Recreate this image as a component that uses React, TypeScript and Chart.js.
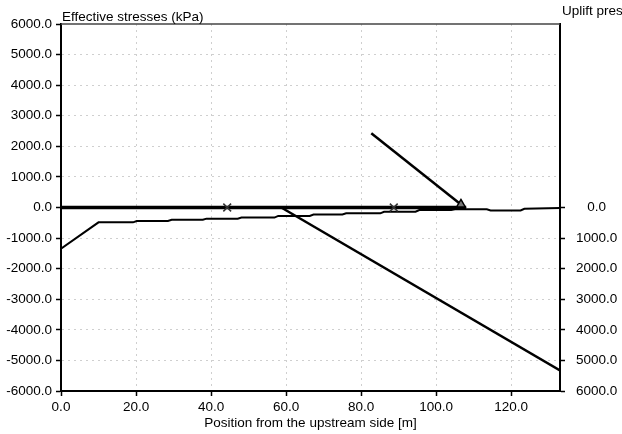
import React, { useEffect, useRef } from "react";
import { Chart, registerables } from "chart.js";

Chart.register(...registerables);

// ---- data ----
const xTitle = "Position from the upstream side [m]";
const leftTitle = "Effective stresses (kPa)";
const rightTitle = "Uplift pressures (kPa)";
const baseLength = 133;

const upliftX = [0, 108];
const upliftY = [0, 0];

const stressX = [0, 10, 19.2, 20.2, 28.5, 29.5, 37.8, 38.8, 47.1, 48.1, 56.9, 57.9, 66.3, 67.3, 75, 76, 85.1, 86.1, 94.5, 95.5, 104, 105, 113.5, 114.5, 122.5, 123.5, 133];
const stressY = [-1350, -485, -485, -440, -440, -400, -400, -365, -365, -330, -330, -275, -275, -228, -228, -190, -190, -140, -140, -85, -85, -60, -60, -95, -95, -40, -20];

const normalX = [58.7, 133];
const normalY = [0, -5330];

const resultantX = [82.7, 106.6];
const resultantY = [2430, 100];

const kernX = [44.3, 88.7];
const kernY = [0, 0];

const toPts = (xs: number[], ys: number[]) => xs.map((x, i) => ({ x, y: ys[i] }));

const FONT = '"Liberation Sans", Arial, sans-serif';
const GRID = "#cfcfcf";

const overlay = {
  id: "overlay",
  afterDraw(chart: any) {
    const { ctx, chartArea } = chart;
    ctx.save();
    ctx.strokeStyle = "#444";
    ctx.lineWidth = 1.5;
    ctx.beginPath();
    ctx.moveTo(chartArea.left, chartArea.top);
    ctx.lineTo(chartArea.right, chartArea.top);
    ctx.stroke();
    ctx.font = `13.5px ${FONT}`;
    ctx.fillStyle = "#000";
    ctx.textBaseline = "alphabetic";
    ctx.textAlign = "left";
    ctx.fillText(leftTitle, chartArea.left + 1, chartArea.top - 3);
    ctx.fillText(rightTitle, chartArea.right + 2, chartArea.top - 9);
    ctx.restore();
  },
};

export default function App() {
  const ref = useRef<HTMLCanvasElement>(null);

  useEffect(() => {
    document.body.style.margin = "0";
    const canvas = ref.current!;
    Chart.defaults.font.family = FONT;
    Chart.defaults.font.size = 13.5;
    Chart.defaults.color = "#000";

    const chart = new Chart(canvas, {
      type: "line",
      data: {
        datasets: [
          {
            label: "Resultant",
            data: toPts(resultantX, resultantY),
            borderColor: "#000",
            borderWidth: 2.5,
            pointRadius: [0, 5],
            pointStyle: "triangle",
            pointBackgroundColor: "#777",
            pointBorderColor: "#000",
            pointBorderWidth: 1.5,
            yAxisID: "y",
            order: 0,
          },
          {
            label: "Kern",
            data: toPts(kernX, kernY),
            showLine: false,
            pointStyle: "crossRot",
            pointRadius: 5.5,
            pointBorderColor: "#333",
            pointBorderWidth: 1.5,
            yAxisID: "y",
            order: -1,
          },
          {
            label: "Uplift",
            data: toPts(upliftX, upliftY),
            borderColor: "#000",
            borderWidth: 3.5,
            pointRadius: 0,
            yAxisID: "y2",
            order: 3,
          },
          {
            label: "Effective stress",
            data: toPts(stressX, stressY),
            borderColor: "#000",
            borderWidth: 2,
            pointRadius: 0,
            yAxisID: "y",
            order: 2,
          },
          {
            label: "Normal stress",
            data: toPts(normalX, normalY),
            borderColor: "#000",
            borderWidth: 2.5,
            pointRadius: 0,
            yAxisID: "y",
            order: 1,
          },
        ],
      },
      options: {
        responsive: false,
        animation: false,
        devicePixelRatio: 1,
        layout: { padding: { top: 24, left: 0, right: 0, bottom: 0 } },
        plugins: { legend: { display: false }, tooltip: { enabled: false } },
        scales: {
          x: {
            type: "linear",
            min: 0,
            max: baseLength,
            ticks: {
              stepSize: 20,
              includeBounds: false,
              autoSkip: false,
              maxRotation: 0,
              padding: 3,
              callback: (v: any) => Number(v).toFixed(1),
            },
            grid: {
              color: (c: any) => (c.tick && c.tick.value === 0 ? "transparent" : GRID),
              lineWidth: 1,
              tickLength: 5,
              tickColor: "#000",
              tickWidth: 1.5,
            },
            border: { display: true, color: "#000", width: 2, dash: [2, 4] },
            title: { display: true, text: xTitle, padding: { top: 0, bottom: 3 } },
            afterFit: (s: any) => {
              s.height = 43;
            },
          },
          y: {
            position: "left",
            min: -6000,
            max: 6000,
            ticks: {
              stepSize: 1000,
              autoSkip: false,
              padding: 4,
              callback: (v: any) => Number(v).toFixed(1),
            },
            grid: {
              color: (c: any) => {
                const v = c.tick ? c.tick.value : null;
                return v === 6000 || v === -6000 || v === 0 ? "transparent" : GRID;
              },
              lineWidth: 1,
              tickLength: 5,
              tickColor: "#000",
              tickWidth: 1.5,
            },
            border: { display: true, color: "#000", width: 2, dash: [2, 4] },
            afterFit: (s: any) => {
              s.width = 61;
            },
          },
          y2: {
            position: "right",
            min: -6000,
            max: 6000,
            reverse: true,
            ticks: {
              stepSize: 1000,
              autoSkip: false,
              padding: 11,
              crossAlign: "center",
              callback: (v: any) => (Number(v) >= 0 ? Number(v).toFixed(1) : ""),
            },
            grid: {
              drawOnChartArea: false,
              tickLength: 5,
              tickWidth: 1.5,
              tickColor: (c: any) => (c.tick && c.tick.value >= 0 ? "#000" : "transparent"),
            },
            border: { display: true, color: "#000", width: 2 },
            afterFit: (s: any) => {
              s.width = 62;
            },
          },
        },
      } as any,
      plugins: [overlay],
    });
    return () => chart.destroy();
  }, []);

  return (
    <div style={{ width: 622, height: 434, background: "#fff" }}>
      <canvas ref={ref} width={622} height={434} />
    </div>
  );
}
